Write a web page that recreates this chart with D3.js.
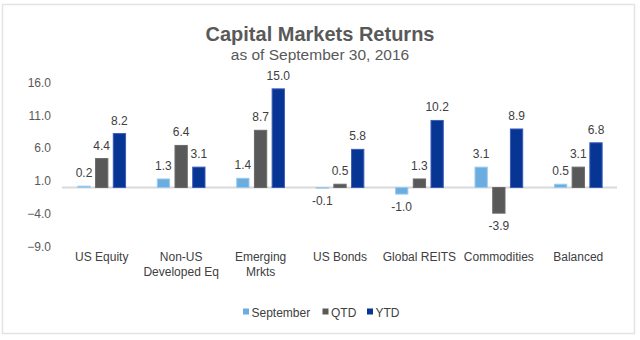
<!DOCTYPE html>
<html>
<head>
<meta charset="utf-8">
<script src="https://cdn.jsdelivr.net/npm/d3@7"></script>
<style>
  body { margin: 0; background: #fff; }
  svg { font-family: "Liberation Sans", Arial, sans-serif; }
</style>
</head>
<body>
<div id="chart"></div>
<script>
const categories = ["US Equity", "Non-US|Developed Eq", "Emerging|Mrkts", "US Bonds", "Global REITS", "Commodities", "Balanced"];
const seriesNames = ["September", "QTD", "YTD"];
const september = [0.2, 1.3, 1.4, -0.1, -1.0, 3.1, 0.5];
const qtd = [4.4, 6.4, 8.7, 0.5, 1.3, -3.9, 3.1];
const ytd = [8.2, 3.1, 15.0, 5.8, 10.2, 8.9, 6.8];
const yTicks = [-9, -4, 1, 6, 11, 16];

const colors = { September: "#6aaee0", QTD: "#595959", YTD: "#073594" };
const edges = { September: "#9ccaee", QTD: "#6a6a6a", YTD: "#3a5cb8" };

const width = 640, height = 340;
const seriesValues = [september, qtd, ytd];
const data = categories.map((c, i) => ({
  cat: c,
  vals: seriesNames.map((s, j) => ({ key: s, v: seriesValues[j][i] })),
}));

const svg = d3.select("#chart").append("svg")
  .attr("width", width).attr("height", height);

// outer frame
svg.append("rect")
  .attr("x", 2.5).attr("y", 4.5).attr("width", 632).attr("height", 329)
  .attr("fill", "#fff").attr("stroke", "#e3e3e3").attr("stroke-width", 1.5);

svg.append("text")
  .attr("x", 320).attr("y", 41)
  .attr("text-anchor", "middle")
  .style("font-size", "20px").style("font-weight", "bold")
  .attr("fill", "#595959")
  .text("Capital Markets Returns");

svg.append("text")
  .attr("x", 320).attr("y", 60)
  .attr("text-anchor", "middle")
  .style("font-size", "15.5px")
  .attr("fill", "#595959")
  .text("as of September 30, 2016");

const x0 = d3.scaleBand().domain(categories).range([62, 618]);
const groupW = 48.7;
const x1 = d3.scaleBand().domain(seriesNames)
  .range([(x0.bandwidth() - groupW) / 2, (x0.bandwidth() + groupW) / 2])
  .paddingInner(0.25);
const y = d3.scaleLinear().domain([-9, 16]).range([246.7, 82.3]);

// y axis labels
const yAxis = svg.append("g")
  .attr("transform", "translate(51,0)")
  .call(d3.axisLeft(y).tickValues(yTicks).tickFormat(d3.format(".1f")).tickSize(0).tickPadding(0));
yAxis.select(".domain").remove();
yAxis.selectAll("text")
  .style("font-size", "12px")
  .style("font-family", "Liberation Sans, Arial, sans-serif")
  .attr("fill", "#595959");

// zero line
svg.append("line")
  .attr("x1", 62).attr("x2", 617)
  .attr("y1", y(0)).attr("y2", y(0))
  .attr("stroke", "#d9d9d9").attr("stroke-width", 2);

const groups = svg.selectAll(".grp").data(data).join("g")
  .attr("class", "grp")
  .attr("transform", (d) => `translate(${x0(d.cat)},0)`);

groups.selectAll("rect").data((d) => d.vals).join("rect")
  .attr("x", (d) => x1(d.key) + 0.5)
  .attr("width", x1.bandwidth() - 1)
  .attr("y", (d) => Math.min(y(d.v), y(0)))
  .attr("height", (d) => Math.max(Math.abs(y(d.v) - y(0)), 0.5))
  .attr("fill", (d) => colors[d.key])
  .attr("stroke", (d) => edges[d.key])
  .attr("stroke-width", 1);

groups.selectAll("text.val").data((d) => d.vals).join("text")
  .attr("class", "val")
  .attr("x", (d) => x1(d.key) + x1.bandwidth() / 2)
  .attr("y", (d) => (d.v >= 0 ? y(d.v) - 9 : y(d.v) + 17))
  .attr("text-anchor", "middle")
  .style("font-size", "12px")
  .attr("fill", "#404040")
  .text((d) => d.v.toFixed(1));

// category labels
const catLabels = svg.selectAll(".cat").data(categories).join("text")
  .attr("class", "cat")
  .attr("text-anchor", "middle")
  .attr("x", (d) => x0(d) + x0.bandwidth() / 2)
  .attr("y", 261)
  .style("font-size", "12px")
  .attr("fill", "#404040");
catLabels.selectAll("tspan").data((d) => d.split("|")).join("tspan")
  .attr("x", function () { return d3.select(this.parentNode).attr("x"); })
  .attr("dy", (d, i) => (i === 0 ? 0 : 15))
  .text((d) => d);

// legend
const legendX = [243, 322.5, 367];
const legend = svg.selectAll(".leg").data(seriesNames).join("g")
  .attr("class", "leg")
  .attr("transform", (d, i) => `translate(${legendX[i]},312)`);
legend.append("rect")
  .attr("x", 0).attr("y", -3.5).attr("width", 6).attr("height", 6)
  .attr("fill", (d) => colors[d]);
legend.append("text")
  .attr("x", 8.5).attr("y", 4.5)
  .style("font-size", "12px")
  .attr("fill", "#404040")
  .text((d) => d);
</script>
</body>
</html>
